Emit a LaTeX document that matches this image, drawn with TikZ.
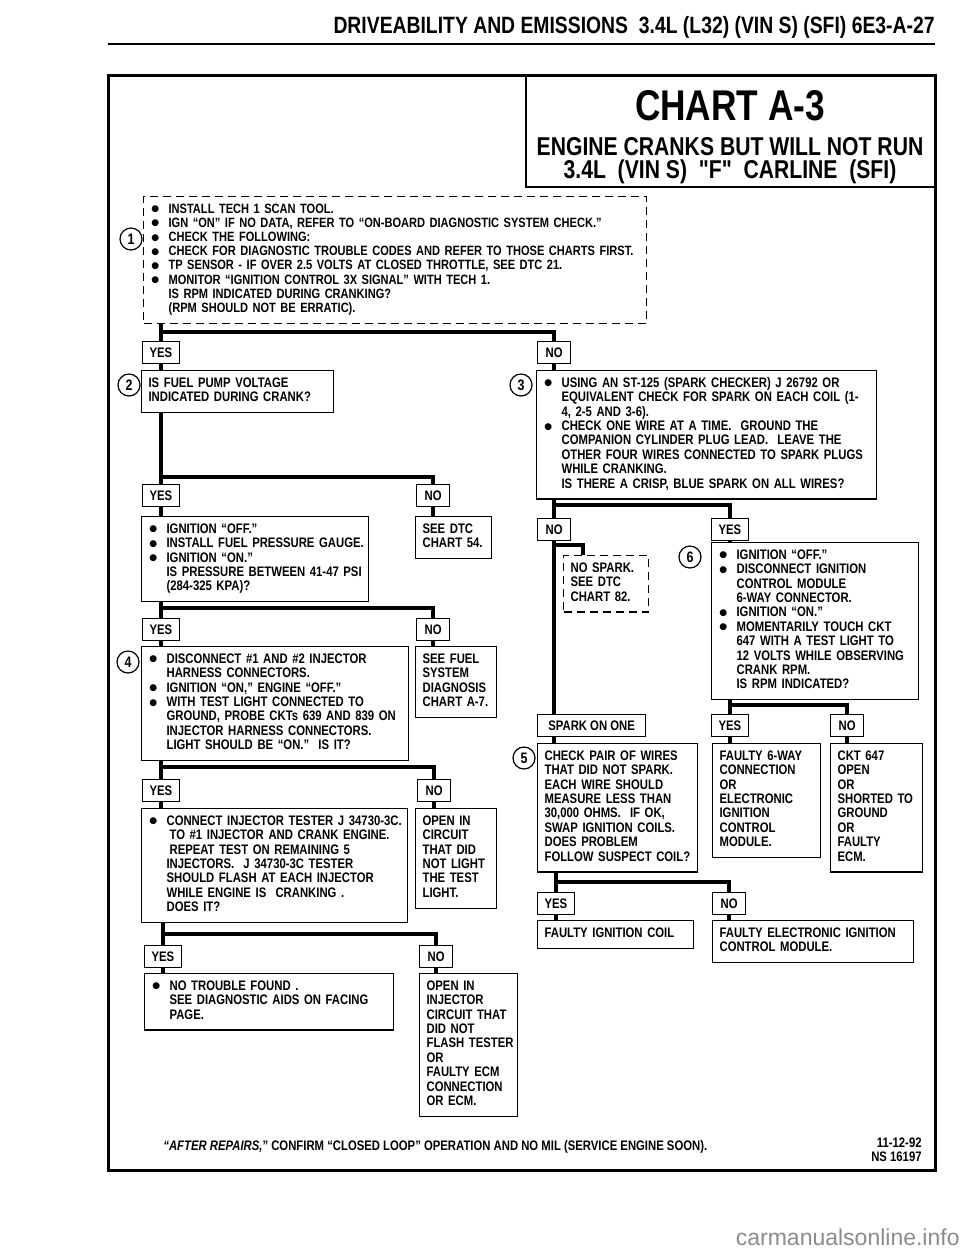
\documentclass[tikz,border=0pt]{standalone}
\usepackage{fontspec}
\newfontfamily\chartfont[FakeStretch=0.82]{Liberation Sans}
\newfontfamily\markfont{Liberation Sans}
\newfontfamily\dotfont{DejaVu Sans}
\newcommand{\chart}{\chartfont\bfseries\fontsize{6.9}{7.2}\selectfont}
\newcommand{\tight}{\chartfont\bfseries\fontsize{6.75}{7.1}\selectfont}
\newcommand{\bul}{\makebox[9pt][l]{\hspace*{0.4pt}\raisebox{0.7pt}{\dotfont\fontsize{4.5}{5}\selectfont ●}}}
\newcommand{\ind}{\hspace*{9pt}}
\newcommand{\lines}[1]{\noindent\begin{tabular}{@{}l@{}}#1\end{tabular}}

\begin{document}
\begin{tikzpicture}[x=0.5pt,y=-0.5pt,
  chartbox/.style={draw,line width=0.6pt,anchor=north west,inner xsep=3.5pt,inner ysep=3.3pt,align=left,font=\chart},
  dbox/.style={chartbox,dash pattern=on 4pt off 2.5pt},
  lbl/.style={draw,line width=0.6pt,anchor=north west,inner xsep=3.5pt,inner ysep=0pt,minimum height=10.8pt,minimum width=16.5pt,font=\chart},
  num/.style={circle,draw,line width=0.6pt,minimum size=11pt,inner sep=0pt,font=\chartfont\bfseries\fontsize{7.6}{8}\selectfont},
  conn/.style={line width=2pt,line cap=butt,line join=miter}]
\fill[white] (0,0) rectangle (960,1250);
\useasboundingbox (0,0) rectangle (960,1250);

% page head and frame
\node[anchor=base east,inner sep=0pt,font=\chartfont\bfseries\fontsize{11.8}{12}\selectfont] (hdr) at (935,33)
  {DRIVEABILITY AND EMISSIONS\ \ 3.4L\ (L32)\ (VIN S)\ (SFI)\ 6E3-A-27};
\draw[line width=1.2pt] (108,44) -- (935,44);
\draw[line width=1.5pt] (108,75) rectangle (935,1170);
\draw[line width=1pt] (526,75) |- (935,187);
\node[font=\chartfont\bfseries\fontsize{21.5}{22}\selectfont] (ttl) at (730,106) {CHART A-3};
\node[font=\chartfont\bfseries\fontsize{12.9}{13}\selectfont] (sub1) at (730,147) {ENGINE CRANKS BUT WILL NOT RUN};
\node[font=\chartfont\bfseries\fontsize{12.9}{13}\selectfont] (sub2) at (730,172) {3.4L\ \ (VIN S)\ \ "F"\ \ CARLINE\ \ (SFI)};

% left column
\node[dbox,text width=244.5pt,font=\tight] (chk) at (143,196) {\lines{\bul INSTALL TECH 1 SCAN TOOL.\\
  \bul IGN “ON” IF NO DATA, REFER TO “ON-BOARD DIAGNOSTIC SYSTEM CHECK.”\\
  \bul CHECK THE FOLLOWING:\\
  \bul CHECK FOR DIAGNOSTIC TROUBLE CODES AND REFER TO THOSE CHARTS FIRST.\\
  \bul TP SENSOR - IF OVER 2.5 VOLTS AT CLOSED THROTTLE, SEE DTC 21.\\
  \bul MONITOR “IGNITION CONTROL 3X SIGNAL” WITH TECH 1.\\
  \ind IS RPM INDICATED DURING CRANKING?\\
  \ind (RPM SHOULD NOT BE ERRATIC).}};
\node[num] (c1) at (131,239) {1};
\node[lbl] (y1) at (142,341) {YES};
\node[lbl] (n1) at (537,341) {NO};
\node[chartbox,text width=89pt] (pump) at (141,370) {\lines{IS FUEL PUMP VOLTAGE\\INDICATED DURING CRANK?}};
\node[num] (c2) at (129,385) {2};
\node[lbl] (y2) at (142,484) {YES};
\node[lbl] (n2) at (416,484) {NO};
\node[chartbox,text width=106.5pt] (press) at (141,516) {\lines{\bul IGNITION “OFF.”\\
  \bul INSTALL FUEL PRESSURE GAUGE.\\
  \bul IGNITION “ON.”\\
  \ind IS PRESSURE BETWEEN 41-47 PSI\\
  \ind (284-325 KPA)?}};
\node[chartbox,text width=31pt] (dtc) at (415,516) {\lines{SEE DTC\\CHART 54.}};
\node[lbl] (y3) at (142,618) {YES};
\node[lbl] (n3) at (416,618) {NO};
\node[chartbox,text width=126.5pt] (inj) at (141,646) {\lines{\bul DISCONNECT \#1 AND \#2 INJECTOR\\
  \ind HARNESS CONNECTORS.\\
  \bul IGNITION “ON,” ENGINE “OFF.”\\
  \bul WITH TEST LIGHT CONNECTED TO\\
  \ind GROUND, PROBE CKTs 639 AND 839 ON\\
  \ind INJECTOR HARNESS CONNECTORS.\\
  \ind LIGHT SHOULD BE “ON.”\ \ IS IT?}};
\node[num] (c4) at (128,662) {4};
\node[chartbox,text width=33.5pt] (fuel) at (415,646) {\lines{SEE FUEL\\SYSTEM\\DIAGNOSIS\\CHART A-7.}};
\node[lbl] (y4) at (142,779) {YES};
\node[lbl] (n4) at (417,779) {NO};
\node[chartbox,text width=126pt] (tester) at (141,808) {\lines{\bul CONNECT INJECTOR TESTER J 34730-3C.\\
  \ind\hspace*{1.5pt}TO \#1 INJECTOR AND CRANK ENGINE.\\
  \ind\hspace*{1.5pt}REPEAT TEST ON REMAINING 5\\
  \ind INJECTORS.\ \ J 34730-3C TESTER\\
  \ind SHOULD FLASH AT EACH INJECTOR\\
  \ind WHILE ENGINE IS\ \ CRANKING .\\
  \ind DOES IT?}};
\node[chartbox,text width=33.5pt] (opencirc) at (415,808) {\lines{OPEN IN\\CIRCUIT\\THAT DID\\NOT LIGHT\\THE TEST\\LIGHT.}};
\node[lbl] (y5) at (144,945) {YES};
\node[lbl] (n5) at (419,945) {NO};
\node[chartbox,text width=117.5pt] (ntf) at (144,973) {\lines{\bul NO TROUBLE FOUND .\\
  \ind SEE DIAGNOSTIC AIDS ON FACING\\
  \ind PAGE.}};
\node[chartbox,text width=42pt] (openinj) at (419,973) {\lines{OPEN IN\\INJECTOR\\CIRCUIT THAT\\DID NOT\\FLASH TESTER\\OR\\FAULTY ECM\\CONNECTION\\OR ECM.}};

% right column
\node[chartbox,text width=163pt] (spark) at (536,370) {\lines{\bul USING AN ST-125 (SPARK CHECKER) J 26792 OR\\
  \ind EQUIVALENT CHECK FOR SPARK ON EACH COIL (1-\\
  \ind 4, 2-5 AND 3-6).\\
  \bul CHECK ONE WIRE AT A TIME.\ \ GROUND THE\\
  \ind COMPANION CYLINDER PLUG LEAD.\ \ LEAVE THE\\
  \ind OTHER FOUR WIRES CONNECTED TO SPARK PLUGS\\
  \ind WHILE CRANKING.\\
  \ind IS THERE A CRISP, BLUE SPARK ON ALL WIRES?}};
\node[num] (c3) at (521,385) {3};
\node[lbl] (nr1) at (537,518) {NO};
\node[lbl] (yr1) at (711,518) {YES};
\node[dbox,text width=35.5pt] (nospark) at (563,555) {\lines{NO SPARK.\\SEE DTC\\CHART 82.}};
\node[chartbox,text width=96.5pt] (icm) at (711,542) {\lines{\bul IGNITION “OFF.”\\
  \bul DISCONNECT IGNITION\\
  \ind CONTROL MODULE\\
  \ind 6-WAY CONNECTOR.\\
  \bul IGNITION “ON.”\\
  \bul MOMENTARILY TOUCH CKT\\
  \ind 647 WITH A TEST LIGHT TO\\
  \ind 12 VOLTS WHILE OBSERVING\\
  \ind CRANK RPM.\\
  \ind IS RPM INDICATED?}};
\node[num] (c6) at (690,557) {6};
\node[lbl,minimum width=54pt] (sparkone) at (537,714) {SPARK ON ONE};
\node[lbl] (yr2) at (711,714) {YES};
\node[lbl] (nr2) at (830,714) {NO};
\node[chartbox,text width=73pt] (pair) at (537,743) {\lines{CHECK PAIR OF WIRES\\THAT DID NOT SPARK.\\EACH WIRE SHOULD\\MEASURE LESS THAN\\30,000 OHMS.\ \ IF OK,\\SWAP IGNITION COILS.\\DOES PROBLEM\\FOLLOW SUSPECT COIL?}};
\node[num] (c5) at (524,758) {5};
\node[chartbox,text width=47pt] (sixway) at (712,743) {\lines{FAULTY 6-WAY\\CONNECTION\\OR\\ELECTRONIC\\IGNITION\\CONTROL\\MODULE.}};
\node[chartbox,text width=39pt] (ckt) at (830,743) {\lines{CKT 647\\OPEN\\OR\\SHORTED TO\\GROUND\\OR\\FAULTY\\ECM.}};
\node[lbl] (yr3) at (537,892) {YES};
\node[lbl] (nr3) at (712,892) {NO};
\node[chartbox,text width=71pt] (coil) at (537,920) {\lines{FAULTY IGNITION COIL}};
\node[chartbox,text width=93.5pt] (eicm) at (712,920) {\lines{FAULTY ELECTRONIC IGNITION\\CONTROL MODULE.}};

% junction heights
\coordinate (j1) at (0,332);
\coordinate (j2) at (0,477);
\coordinate (j3) at (0,608);
\coordinate (j4) at (0,767);
\coordinate (j5) at (0,934);
\coordinate (j6) at (0,505);
\coordinate (j7) at (0,705);
\coordinate (j8) at (0,882);
\coordinate (k1) at (583,545);

% connectors
\foreach \src/\la/\ra/\lt/\rt/\j in {chk/y1/n1/pump/spark/j1, pump/y2/n2/press/dtc/j2,
    press/y3/n3/inj/fuel/j3, inj/y4/n4/tester/opencirc/j4, tester/y5/n5/ntf/openinj/j5,
    spark/nr1/yr1/sparkone/icm/j6, icm/yr2/nr2/sixway/ckt/j7, pair/yr3/nr3/coil/eicm/j8}
  \draw[conn] (\src.south -| \la.north) -- (\la.north)
    (\la.north |- \j) -| (\ra.north)
    (\la.south) -- (\lt.north -| \la.south)
    (\ra.south) -- (\rt.north -| \ra.south);
\draw[conn] (nr1.south |- k1) -| (nospark.north -| k1);
\draw[conn] (sparkone.south -| nr1.south) -- (pair.north -| nr1.south);

% foot
\node[anchor=west,inner sep=0pt,font=\chart] (foot) at (163,1147)
  {\textit{“AFTER REPAIRS,}” CONFIRM “CLOSED LOOP” OPERATION AND NO MIL (SERVICE ENGINE SOON).};
\node[anchor=north east,align=right,inner sep=0pt,font=\chart] (date) at (922,1137) {11-12-92\\NS 16197};
\node[anchor=east,inner sep=0pt,text=black!45,font=\markfont\fontsize{11.5}{12}\selectfont] (wm) at (960,1237) {carmanualsonline.info};
\end{tikzpicture}
\end{document}
